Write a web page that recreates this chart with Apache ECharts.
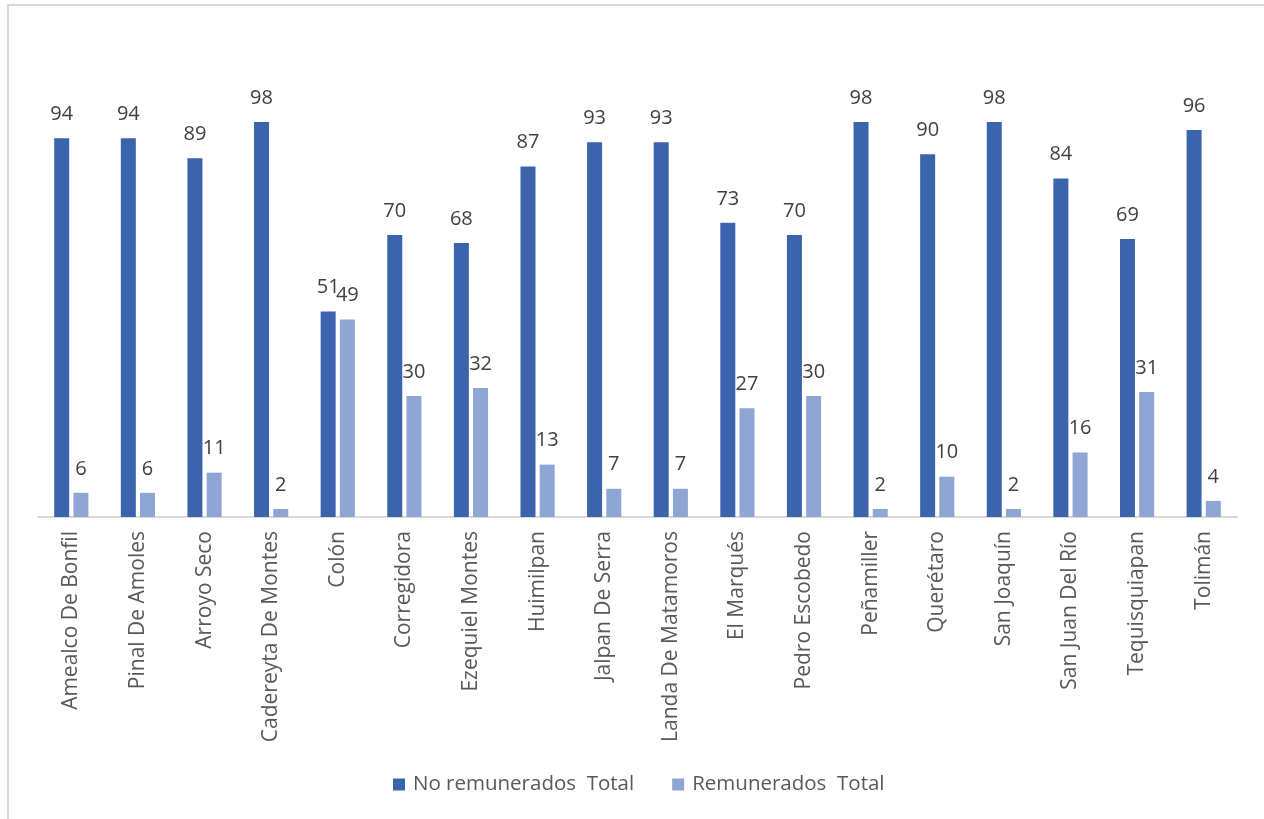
<!DOCTYPE html>
<html>
<head>
<meta charset="utf-8">
<script src="https://cdn.jsdelivr.net/npm/echarts@6/dist/echarts.min.js"></script>
<style>
  html, body { margin: 0; padding: 0; background: #fff; overflow: hidden; }
  #frame { position: absolute; left: 7px; top: 4px; width: 1300px; height: 840px;
           border-left: 2px solid #d9d9d9; border-top: 2px solid #d9d9d9; box-sizing: border-box; }
  #chart { position: absolute; left: 0; top: 0; width: 1264px; height: 819px; }
</style>
</head>
<body>
<div id="frame"></div>
<div id="chart"></div>
<script>
// Municipalities of Querétaro
const municipios = [
  'Amealco De Bonfil', 'Pinal De Amoles', 'Arroyo Seco', 'Cadereyta De Montes',
  'Colón', 'Corregidora', 'Ezequiel Montes', 'Huimilpan', 'Jalpan De Serra',
  'Landa De Matamoros', 'El Marqués', 'Pedro Escobedo', 'Peñamiller',
  'Querétaro', 'San Joaquín', 'San Juan Del Río', 'Tequisquiapan', 'Tolimán'
];
// Percentages per municipality
const noRemunerados = [94, 94, 89, 98, 51, 70, 68, 87, 93, 93, 73, 70, 98, 90, 98, 84, 69, 96];
const remunerados   = [6, 6, 11, 2, 49, 30, 32, 13, 7, 7, 27, 30, 2, 10, 2, 16, 31, 4];
const seriesNames = ['No remunerados  Total', 'Remunerados  Total'];

const FONT = '"Open Sans", "Noto Sans", sans-serif';
const chart = echarts.init(document.getElementById('chart'), null, { renderer: 'canvas' });

const labelStyle = {
  show: true, position: 'top', distance: 14,
  color: '#404040', fontSize: 20, fontFamily: FONT
};

chart.setOption({
  animation: false,
  backgroundColor: 'transparent',
  grid: { left: 38, right: 27, top: 114, bottom: 302, containLabel: false },
  legend: {
    bottom: 19, left: 388,
    itemWidth: 12, itemHeight: 12, itemGap: 38,
    icon: 'rect',
    textStyle: { color: '#595959', fontSize: 20.5, fontFamily: FONT, padding: [0, 0, 0, 3] },
    data: seriesNames
  },
  xAxis: {
    type: 'category',
    data: municipios,
    axisLine: { lineStyle: { color: '#d9d9d9', width: 2 } },
    axisTick: { show: false },
    axisLabel: {
      rotate: 90, interval: 0, margin: 14,
      color: '#595959', fontSize: 21, fontFamily: FONT
    }
  },
  yAxis: {
    type: 'value', min: 0, max: 100,
    show: false,
    splitLine: { show: false }
  },
  series: [
    {
      name: seriesNames[0], type: 'bar', data: noRemunerados,
      barWidth: 15, barGap: '28%',
      itemStyle: { color: '#3c64ad' },
      label: labelStyle
    },
    {
      name: seriesNames[1], type: 'bar', data: remunerados,
      barWidth: 15,
      itemStyle: { color: '#8fa5d4' },
      label: labelStyle
    }
  ]
});
</script>
</body>
</html>
